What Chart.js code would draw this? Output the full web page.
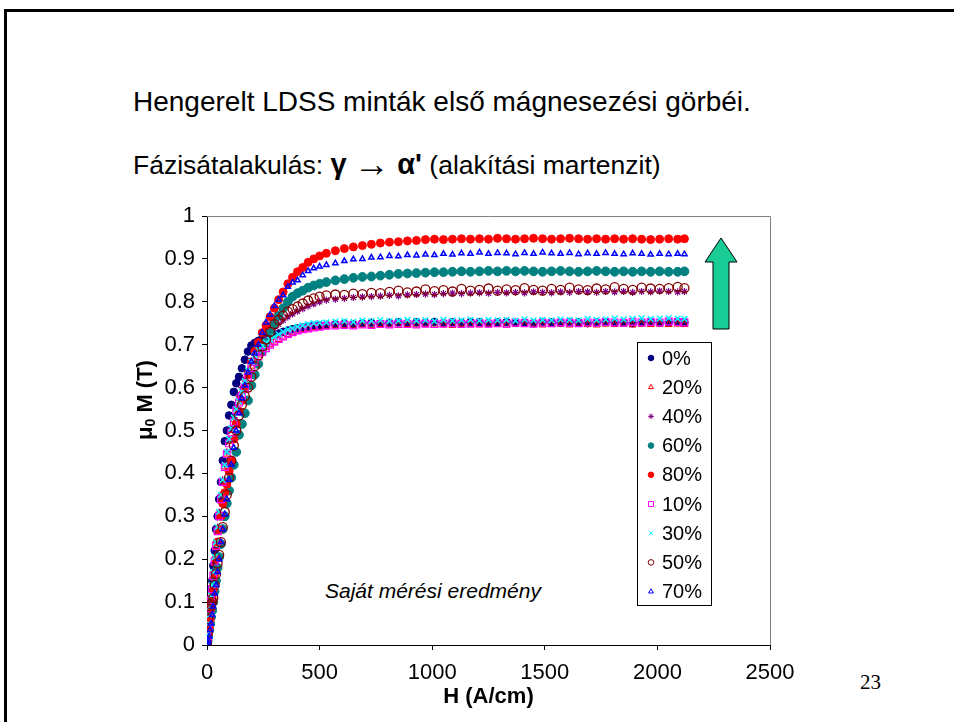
<!DOCTYPE html>
<html>
<head>
<meta charset="utf-8">
<script src="https://cdn.jsdelivr.net/npm/chart.js@4.4.0/dist/chart.umd.min.js"></script>
<style>
  body { margin: 0; width: 954px; height: 722px; position: relative; background: #fff; overflow: hidden; font-family: 'Liberation Sans', Arial, sans-serif; }
  .frame { position: absolute; left: 4px; top: 9px; width: 960px; height: 720px; border-left: 3px solid #000; border-top: 3px solid #000; }
  .line { position: absolute; left: 133px; font-size: 28px; line-height: 32px; color: #000; white-space: nowrap; }
  .line.sub { font-size: 26.5px; }
  .line b { font-size: 29px; }
  .line .arr { font-size: 36px; line-height: 0; vertical-align: -2px; }
  .note { position: absolute; left: 0; top: 0; font-style: italic; font-size: 21px; color: #000; white-space: nowrap; }
  .page { position: absolute; left: 860px; top: 670px; font-family: 'Liberation Serif', 'Times New Roman', serif; font-size: 21px; }
  canvas { position: absolute; left: 0; top: 0; }
</style>
</head>
<body>
<div class="frame"></div>
<div class="line" style="top:86px">Hengerelt LDSS minták első mágnesezési görbéi.</div>
<div class="line sub" style="top:148px">Fázisátalakulás: <b>γ</b> <span class="arr">→</span> <b>α'</b> (alakítási martenzit)</div>
<div class="note" style="left:325px; top:579px">Saját mérési eredmény</div>
<div class="page">23</div>
<canvas id="magChart" width="954" height="722"></canvas>
<script>
// field strength H (A/cm), shared by all samples
const H = [0, 3, 6, 10, 14, 18, 23, 28, 34, 40, 47, 54, 62, 70, 79, 88, 98, 108, 119, 130,
  142, 155, 168, 182, 197, 212, 228, 245, 262, 280, 299, 318, 338, 359, 380, 402, 425, 449, 474, 500,
  530, 570, 610, 650, 690, 730, 770, 810, 850, 890, 930, 970, 1010, 1050, 1090, 1130, 1170, 1210, 1250, 1290,
  1330, 1370, 1410, 1450, 1490, 1530, 1570, 1610, 1650, 1690, 1730, 1770, 1810, 1850, 1890, 1930, 1970, 2010, 2050, 2090, 2120];

// mu0 M (T) for each rolling reduction
const m0 = [0, 0.02, 0.05, 0.08, 0.105, 0.13, 0.15, 0.185, 0.22, 0.27, 0.30, 0.34, 0.38, 0.43, 0.475, 0.50, 0.535, 0.56, 0.59, 0.61,
  0.625, 0.645, 0.665, 0.684, 0.698, 0.704, 0.709, 0.714, 0.717, 0.72, 0.723, 0.726, 0.73, 0.733, 0.736, 0.738, 0.74, 0.742, 0.744, 0.745,
  0.746, 0.748, 0.749, 0.748, 0.750, 0.751, 0.749, 0.751, 0.752, 0.750, 0.752, 0.751, 0.753, 0.750, 0.752, 0.751, 0.753, 0.752, 0.750, 0.752,
  0.753, 0.751, 0.752, 0.750, 0.753, 0.752, 0.751, 0.753, 0.752, 0.750, 0.752, 0.753, 0.751, 0.752, 0.750, 0.752, 0.753, 0.751, 0.752, 0.753, 0.752];
const m20 = [0, 0.01, 0.03, 0.05, 0.075, 0.10, 0.125, 0.16, 0.19, 0.23, 0.265, 0.30, 0.34, 0.38, 0.415, 0.445, 0.475, 0.50, 0.525, 0.55,
  0.575, 0.59, 0.61, 0.63, 0.65, 0.665, 0.676, 0.685, 0.693, 0.70, 0.706, 0.712, 0.718, 0.724, 0.728, 0.732, 0.735, 0.737, 0.74, 0.741,
  0.743, 0.744, 0.745, 0.744, 0.746, 0.745, 0.747, 0.746, 0.745, 0.747, 0.746, 0.748, 0.746, 0.747, 0.745, 0.748, 0.747, 0.746, 0.748, 0.747,
  0.746, 0.748, 0.747, 0.748, 0.746, 0.747, 0.748, 0.746, 0.748, 0.747, 0.746, 0.748, 0.747, 0.748, 0.746, 0.748, 0.747, 0.748, 0.747, 0.748, 0.747];
const m40 = [0, 0.015, 0.035, 0.06, 0.085, 0.11, 0.135, 0.17, 0.20, 0.24, 0.275, 0.31, 0.35, 0.385, 0.42, 0.45, 0.48, 0.505, 0.53, 0.555,
  0.58, 0.60, 0.62, 0.64, 0.66, 0.675, 0.69, 0.703, 0.715, 0.727, 0.738, 0.748, 0.757, 0.765, 0.772, 0.778, 0.784, 0.79, 0.795, 0.80,
  0.804, 0.806, 0.808, 0.81, 0.811, 0.812, 0.813, 0.815, 0.814, 0.816, 0.817, 0.818, 0.817, 0.819, 0.82, 0.819, 0.82, 0.821, 0.82, 0.822,
  0.821, 0.822, 0.821, 0.823, 0.822, 0.821, 0.823, 0.822, 0.824, 0.823, 0.822, 0.824, 0.823, 0.824, 0.822, 0.824, 0.823, 0.825, 0.824, 0.823, 0.824];
const m60 = [0, 0.01, 0.02, 0.035, 0.05, 0.065, 0.08, 0.10, 0.125, 0.15, 0.18, 0.205, 0.235, 0.27, 0.30, 0.33, 0.36, 0.39, 0.42, 0.45,
  0.49, 0.515, 0.54, 0.57, 0.605, 0.63, 0.655, 0.685, 0.705, 0.73, 0.75, 0.768, 0.785, 0.80, 0.812, 0.82, 0.826, 0.833, 0.838, 0.842,
  0.846, 0.85, 0.853, 0.856, 0.858, 0.859, 0.861, 0.863, 0.865, 0.866, 0.867, 0.868, 0.869, 0.869, 0.87, 0.871, 0.87, 0.871, 0.872, 0.871,
  0.872, 0.871, 0.872, 0.871, 0.87, 0.871, 0.872, 0.871, 0.87, 0.871, 0.872, 0.871, 0.87, 0.871, 0.87, 0.871, 0.87, 0.871, 0.87, 0.87, 0.871];
const m80 = [0, 0.01, 0.025, 0.04, 0.06, 0.085, 0.11, 0.13, 0.165, 0.20, 0.24, 0.27, 0.30, 0.33, 0.355, 0.375, 0.405, 0.43, 0.48, 0.515,
  0.545, 0.57, 0.60, 0.63, 0.66, 0.685, 0.705, 0.728, 0.745, 0.765, 0.785, 0.805, 0.823, 0.842, 0.857, 0.87, 0.88, 0.892, 0.90, 0.907,
  0.913, 0.919, 0.924, 0.928, 0.931, 0.934, 0.937, 0.939, 0.94, 0.942, 0.943, 0.945, 0.946, 0.945, 0.946, 0.947, 0.946, 0.947, 0.946, 0.948,
  0.947, 0.946, 0.947, 0.948, 0.947, 0.946, 0.947, 0.948, 0.947, 0.946, 0.947, 0.946, 0.947, 0.946, 0.947, 0.946, 0.945, 0.946, 0.947, 0.946, 0.947];
const m10 = [0, 0.02, 0.04, 0.06, 0.085, 0.105, 0.13, 0.16, 0.195, 0.23, 0.265, 0.30, 0.34, 0.38, 0.415, 0.445, 0.47, 0.495, 0.52, 0.548,
  0.565, 0.58, 0.60, 0.625, 0.645, 0.66, 0.673, 0.683, 0.692, 0.70, 0.707, 0.713, 0.719, 0.725, 0.729, 0.733, 0.736, 0.738, 0.74, 0.742,
  0.744, 0.745, 0.746, 0.745, 0.747, 0.746, 0.748, 0.747, 0.749, 0.748, 0.747, 0.749, 0.748, 0.749, 0.75, 0.748, 0.749, 0.75, 0.749, 0.75,
  0.749, 0.751, 0.75, 0.749, 0.751, 0.75, 0.752, 0.751, 0.75, 0.752, 0.751, 0.753, 0.752, 0.751, 0.753, 0.752, 0.753, 0.752, 0.754, 0.753, 0.752];
const m30 = [0, 0.025, 0.05, 0.07, 0.09, 0.115, 0.14, 0.17, 0.205, 0.24, 0.275, 0.31, 0.35, 0.385, 0.42, 0.45, 0.48, 0.505, 0.53, 0.55,
  0.568, 0.59, 0.615, 0.64, 0.66, 0.675, 0.688, 0.698, 0.705, 0.712, 0.718, 0.724, 0.73, 0.735, 0.738, 0.742, 0.745, 0.748, 0.75, 0.751,
  0.752, 0.754, 0.755, 0.753, 0.756, 0.755, 0.757, 0.755, 0.756, 0.758, 0.756, 0.757, 0.755, 0.758, 0.756, 0.757, 0.758, 0.756, 0.758, 0.757,
  0.758, 0.756, 0.759, 0.757, 0.758, 0.757, 0.759, 0.758, 0.757, 0.76, 0.758, 0.759, 0.761, 0.759, 0.76, 0.762, 0.76, 0.761, 0.762, 0.761, 0.76];
const m50 = [0, 0.03, 0.06, 0.085, 0.09, 0.095, 0.10, 0.11, 0.14, 0.165, 0.19, 0.21, 0.24, 0.275, 0.31, 0.35, 0.39, 0.43, 0.465, 0.50,
  0.535, 0.56, 0.58, 0.60, 0.625, 0.65, 0.675, 0.696, 0.712, 0.73, 0.748, 0.758, 0.768, 0.777, 0.783, 0.789, 0.796, 0.803, 0.808, 0.812,
  0.815, 0.817, 0.816, 0.819, 0.818, 0.821, 0.82, 0.823, 0.826, 0.822, 0.824, 0.829, 0.825, 0.827, 0.824, 0.83, 0.826, 0.828, 0.831, 0.826,
  0.829, 0.827, 0.832, 0.828, 0.826, 0.83, 0.828, 0.833, 0.829, 0.827, 0.831, 0.829, 0.834, 0.83, 0.828, 0.833, 0.831, 0.83, 0.832, 0.835, 0.832];
const m70 = [0, 0.005, 0.01, 0.02, 0.035, 0.05, 0.07, 0.09, 0.12, 0.14, 0.17, 0.20, 0.24, 0.27, 0.305, 0.34, 0.385, 0.42, 0.46, 0.50,
  0.54, 0.575, 0.605, 0.635, 0.66, 0.68, 0.70, 0.728, 0.752, 0.77, 0.79, 0.805, 0.815, 0.835, 0.845, 0.85, 0.862, 0.872, 0.878, 0.882,
  0.886, 0.89, 0.895, 0.899, 0.90, 0.903, 0.904, 0.907, 0.906, 0.909, 0.908, 0.91, 0.909, 0.912, 0.91, 0.913, 0.912, 0.915, 0.912, 0.914,
  0.913, 0.911, 0.914, 0.912, 0.915, 0.913, 0.912, 0.914, 0.911, 0.913, 0.912, 0.914, 0.912, 0.911, 0.913, 0.912, 0.91, 0.912, 0.911, 0.912, 0.911];

const seriesNames = ['0%', '20%', '40%', '60%', '80%', '10%', '30%', '50%', '70%'];
const seriesValues = [m0, m20, m40, m60, m80, m10, m30, m50, m70];
const xTicks = [0, 500, 1000, 1500, 2000, 2500];
const yTicks = ['0', '0.1', '0.2', '0.3', '0.4', '0.5', '0.6', '0.7', '0.8', '0.9', '1'];

const markerStyles = [
  { pointStyle: 'circle', radius: 3.8, fill: '#000080', stroke: '#000080', width: 1 },
  { pointStyle: 'triangle', radius: 4, fill: 'rgba(0,0,0,0)', stroke: '#FF0000', width: 1 },
  { pointStyle: 'star', radius: 3.6, fill: 'rgba(0,0,0,0)', stroke: '#800080', width: 1.2 },
  { pointStyle: 'circle', radius: 4.4, fill: '#008080', stroke: '#008080', width: 1 },
  { pointStyle: 'circle', radius: 4, fill: '#FF0000', stroke: '#FF0000', width: 1 },
  { pointStyle: 'rect', radius: 4.8, fill: 'rgba(0,0,0,0)', stroke: '#FF00FF', width: 1.2 },
  { pointStyle: 'crossRot', radius: 4, fill: 'rgba(0,0,0,0)', stroke: '#00FFFF', width: 1.5 },
  { pointStyle: 'circle', radius: 4.5, fill: 'rgba(0,0,0,0)', stroke: '#800000', width: 1.3 },
  { pointStyle: 'triangle', radius: 3, fill: 'rgba(0,0,0,0)', stroke: '#0000FF', width: 1.5 }
];

const FONT = "'Liberation Sans', Arial, sans-serif";

const decor = {
  id: 'decor',
  afterDraw(chart) {
    const c = chart.ctx;
    const a = chart.chartArea;
    c.save();

    // grey plot frame on top and right
    c.strokeStyle = '#808080';
    c.lineWidth = 1;
    c.beginPath();
    c.moveTo(a.left, a.top + 0.5);
    c.lineTo(a.right + 0.5, a.top + 0.5);
    c.lineTo(a.right + 0.5, a.bottom);
    c.stroke();

    // y axis title with subscript
    c.save();
    c.translate(146, 400);
    c.rotate(-Math.PI / 2);
    c.fillStyle = '#000';
    c.textBaseline = 'middle';
    const big = 'bold 22px ' + FONT, small = 'bold 14px ' + FONT;
    c.font = big; const w1 = c.measureText('μ').width, w3 = c.measureText(' M (T)').width;
    c.font = small; const w2 = c.measureText('0').width;
    let x = -(w1 + w2 + w3) / 2;
    c.font = big; c.fillText('μ', x, 0); x += w1;
    c.font = small; c.fillText('0', x, 5); x += w2;
    c.font = big; c.fillText(' M (T)', x, 0);
    c.restore();

    // legend box
    c.fillStyle = '#fff';
    c.fillRect(637, 342, 74, 263);
    c.strokeStyle = '#000';
    c.lineWidth = 1;
    c.strokeRect(637.5, 342.5, 74, 263);
    c.font = '20px ' + FONT;
    c.textBaseline = 'middle';
    seriesNames.forEach(function (name, i) {
      const s = markerStyles[i];
      const y = 358 + i * 29.2;
      c.fillStyle = s.fill;
      c.strokeStyle = s.stroke;
      c.lineWidth = 1;
      if (Chart.helpers && Chart.helpers.drawPoint) {
        Chart.helpers.drawPoint(c, { pointStyle: s.pointStyle, rotation: 0, radius: s.pointStyle === 'rect' ? 3.6 : 2.8, borderWidth: 1 }, 651, y);
      }
      c.fillStyle = '#000';
      c.fillText(name, 662, y + 1);
    });

    // green arrow
    c.beginPath();
    c.moveTo(721, 238);
    c.lineTo(737, 262);
    c.lineTo(729, 262);
    c.lineTo(729, 329);
    c.lineTo(713, 329);
    c.lineTo(713, 262);
    c.lineTo(705, 262);
    c.closePath();
    c.fillStyle = '#19CC96';
    c.fill();
    c.strokeStyle = '#000';
    c.lineWidth = 1;
    c.stroke();

    c.restore();
  }
};

document.addEventListener('DOMContentLoaded', function () {
    const ctx = document.getElementById('magChart');

    const datasets = seriesValues.map(function (vals, i) {
        const s = markerStyles[i];
        return {
            label: seriesNames[i],
            data: H.map(function (h, k) { return { x: h, y: vals[k] }; }),
            pointStyle: s.pointStyle,
            pointRadius: s.radius,
            backgroundColor: s.fill,
            borderColor: s.stroke,
            borderWidth: s.width,
            showLine: false,
            order: seriesNames.length - i
        };
    });

    new Chart(ctx, {
        type: 'scatter',
        data: { datasets: datasets },
        options: {
            responsive: false,
            animation: false,
            layout: {
                padding: { left: 100, right: 184, top: 216, bottom: 10 }
            },
            plugins: {
                legend: { display: false },
                tooltip: { enabled: false }
            },
            scales: {
                x: {
                    type: 'linear',
                    min: 0,
                    max: 2500,
                    afterFit: function (scale) { scale.height = 67; },
                    afterBuildTicks: function (scale) { scale.ticks = xTicks.map(function (v) { return { value: v }; }); },
                    ticks: {
                        color: '#000',
                        font: { family: FONT, size: 22 },
                        padding: 10,
                        maxRotation: 0,
                        callback: function (v) { return String(v); }
                    },
                    grid: { drawOnChartArea: false, color: '#000', tickLength: 5 },
                    border: { color: '#000' },
                    title: {
                        display: true,
                        text: 'H (A/cm)',
                        color: '#000',
                        font: { family: FONT, size: 22, weight: 'bold' },
                        padding: { top: 0, bottom: 2 }
                    }
                },
                y: {
                    type: 'linear',
                    min: 0,
                    max: 1,
                    afterFit: function (scale) { scale.width = 107; },
                    afterBuildTicks: function (scale) { scale.ticks = yTicks.map(function (t) { return { value: parseFloat(t) }; }); },
                    ticks: {
                        color: '#000',
                        font: { family: FONT, size: 22 },
                        padding: 7,
                        callback: function (v, i) { return yTicks[i]; }
                    },
                    grid: { drawOnChartArea: false, color: '#000', tickLength: 5 },
                    border: { color: '#000' }
                }
            }
        },
        plugins: [decor]
    });
});
</script>
</body>
</html>
